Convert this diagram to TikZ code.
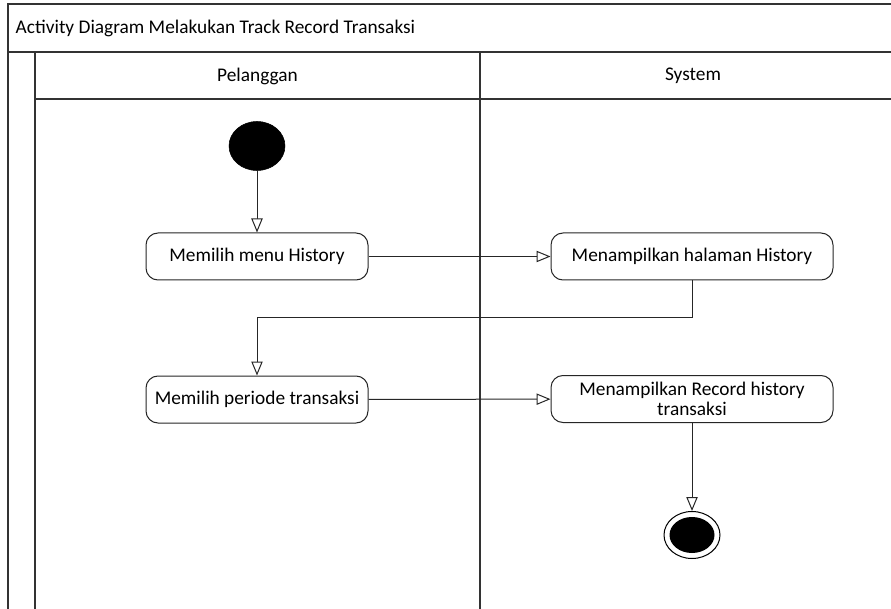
\documentclass[tikz,border=0pt]{standalone}
\usepackage{fontspec}
\setmainfont{Carlito}
\usetikzlibrary{arrows.meta,shapes.geometric}
\begin{document}
\begin{tikzpicture}[x=0.75pt,y=-0.75pt,
  frame/.style={draw=black!80, line width=1.4pt},
  txt/.style={font=\fontsize{14.5}{15.5}\selectfont},
  act/.style={txt, draw=black!85, fill=white, rounded corners=9pt,
    minimum width=166.5pt, minimum height=35.25pt, align=center,
    line width=0.75pt, inner sep=2pt},
  wideact/.style={act, minimum width=211.5pt},
  flow/.style={draw=black!85, line width=0.75pt,
    -{Triangle[open,length=10.5pt,width=8.5pt,fill=white]}},
  startnode/.style={ellipse, fill=black, draw=black, minimum width=42pt,
    minimum height=36.75pt, inner sep=0pt},
  endouter/.style={ellipse, fill=white, draw=black, line width=0.75pt,
    minimum width=42pt, minimum height=35.25pt, inner sep=0pt},
  endinner/.style={ellipse, fill=black, minimum width=33.75pt,
    minimum height=27pt, inner sep=0pt}
]
\useasboundingbox (0,0) rectangle (891,609);

% swimlane frame
\draw[frame] (8,609) -- (8,4) -- (891,4);
\draw[frame] (8,52) -- (891,52);
\draw[frame] (35,609) -- (35,52);
\draw[frame] (35,99) -- (891,99);
\draw[frame] (480,52) -- (480,609);

% headings
\node[txt, anchor=west] (title) at (11,28) {Activity Diagram Melakukan Track Record Transaksi};
\node[txt] (lane1) at (257.5,76) {Pelanggan};
\node[txt] (lane2) at (693,76) {System};

% activities
\node[startnode] (start) at (257,146) {};
\node[act] (a1) at (257,256.5) {Memilih menu History};
\node[wideact] (a2) at (692,256.5) {Menampilkan halaman History};
\node[act] (a3) at (257,399.5) {Memilih periode transaksi};
\node[wideact] (a4) at (692,399) {Menampilkan Record history\\transaksi};
\node[endouter] (stop) at (692,535) {};
\node[endinner] (stopdot) at (stop.center) {};

% control flows
\coordinate (bend) at (0,317);
\draw[flow] (start) -- (a1);
\draw[flow] (a1) -- (a2);
\draw[flow] (a2.south) -- (a2.south |- bend) -| (a3.north);
\draw[flow] (a3) -- (a4);
\draw[flow] (a4) -- (stop);
\end{tikzpicture}
\end{document}
